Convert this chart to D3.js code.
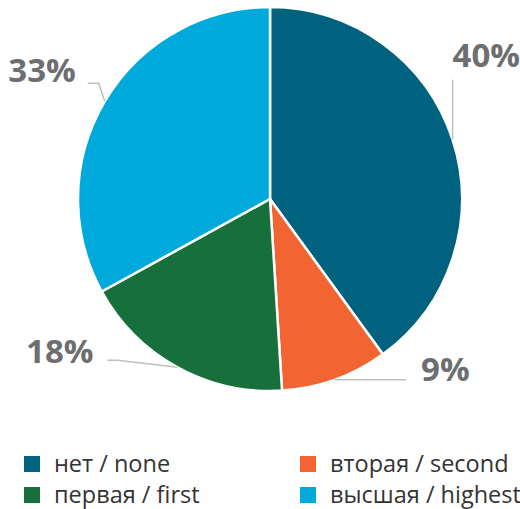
<!DOCTYPE html>
<html><head><meta charset="utf-8">
<script src="https://cdn.jsdelivr.net/npm/d3@7"></script>
<style>body{margin:0;background:#fff}svg{display:block}</style>
</head><body>
<script>
const categories = ["нет / none", "вторая / second", "первая / first", "высшая / highest"];
const values = [40, 9, 18, 33];
const labels = ["40%", "9%", "18%", "33%"];
const colors = ["#00627f", "#f26532", "#17703c", "#00a9dc"];

const W = 520, H = 509, cx = 270, cy = 199, R = 192;
const svg = d3.select("body").append("svg").attr("width", W).attr("height", H);
const g = svg.append("g").attr("transform", `translate(${cx},${cy})`);

const pie = d3.pie().sort(null).value(d => d)(values);
const arc = d3.arc().innerRadius(0).outerRadius(R);

g.selectAll("path.slice").data(pie).enter().append("path")
  .attr("d", arc).attr("fill", (d, i) => colors[i])
  .attr("stroke", "#fff").attr("stroke-width", 2.5).attr("stroke-linejoin", "round");

// leader layout: elbow offsets relative to edge point, text offset relative to end point
const leaderLayout = [
  {pts: [[0, -60]], tx: 0, ty: -13, anchor: "start"},
  {pts: [[71, 0]], tx: 15, ty: 1.5, anchor: "start"},
  {pts: [[-60, -7], [-70, -7]], tx: -14, ty: 3, anchor: "end"},
  {pts: [[-6, -18], [-17, -18]], tx: -12, ty: -1, anchor: "end"}
];
pie.forEach((d, i) => {
  const a = (d.startAngle + d.endAngle) / 2;
  const p0 = [R * Math.sin(a), -R * Math.cos(a)];
  const L = leaderLayout[i];
  const pts = [p0].concat(L.pts.map(o => [p0[0] + o[0], p0[1] + o[1]]));
  g.append("path").attr("d", d3.line()(pts)).attr("fill", "none")
    .attr("stroke", "#bfbfbf").attr("stroke-width", 1.5);
  const e = pts[pts.length - 1];
  g.append("text").attr("x", e[0] + L.tx).attr("y", e[1] + L.ty)
    .attr("text-anchor", L.anchor)
    .style("font-family", "'Open Sans'").style("font-weight", 700)
    .style("font-size", "33px").attr("fill", "#6d6e71").text(labels[i]);
});

const legend = svg.append("g");
const colX = [24, 300], rowY = [456, 487];
categories.forEach((c, i) => {
  const x = colX[i % 2], y = rowY[Math.floor(i / 2)];
  legend.append("rect").attr("x", x).attr("y", y).attr("width", 16).attr("height", 16).attr("fill", colors[i]);
  legend.append("text").attr("x", x + 30).attr("y", y + 16)
    .style("font-family", "'Open Sans'").style("font-size", "23.5px")
    .attr("fill", "#333").text(c);
});
</script>
</body></html>
